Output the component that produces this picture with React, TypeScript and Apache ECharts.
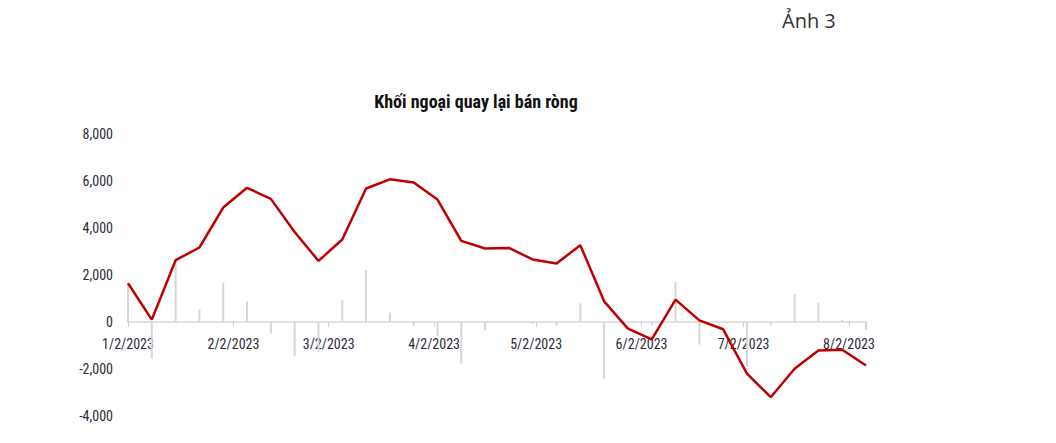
import React, { useEffect, useRef } from "react";
import * as echarts from "echarts";

const weekDates: string[] = [
  "2023-01-02", "2023-01-09", "2023-01-16", "2023-01-23", "2023-01-30",
  "2023-02-06", "2023-02-13", "2023-02-20", "2023-02-27",
  "2023-03-06", "2023-03-13", "2023-03-20", "2023-03-27",
  "2023-04-03", "2023-04-10", "2023-04-17", "2023-04-24",
  "2023-05-01", "2023-05-08", "2023-05-15", "2023-05-22", "2023-05-29",
  "2023-06-05", "2023-06-12", "2023-06-19", "2023-06-26",
  "2023-07-03", "2023-07-10", "2023-07-17", "2023-07-24", "2023-07-31",
  "2023-08-07",
];

// cumulative line (bn VND)
const lineValues: number[] = [
  1650, 100, 2630, 3170, 4870, 5710, 5240, 3830, 2600, 3510, 5680, 6070,
  5940, 5210, 3450, 3130, 3150, 2660, 2490, 3270, 880, -280, -740, 950,
  70, -310, -2200, -3200, -1990, -1210, -1180, -1850,
];

// weekly net values (gray bars)
const barValues: number[] = [
  1650, -1560, 2620, 525, 1690, 865, -495, -1450, -1270, 925, 2200, 400,
  -170, -600, -1770, -355, -40, -80, -150, 795, -2410, -30, -150, 1715,
  -960, -40, -1900, -150, 1180, 820, 100, -330,
];

const monthTickDates: string[] = [
  "2023-01-02", "2023-02-02", "2023-03-02", "2023-04-02",
  "2023-05-02", "2023-06-02", "2023-07-02", "2023-08-02",
];

const yTicks: number[] = [-4000, -2000, 0, 2000, 4000, 6000, 8000];

const titleText = "Khối ngoại quay lại bán ròng";
const captionText = "Ảnh 3";

const toTs = (s: string): number => new Date(s + "T00:00:00Z").getTime();

const narrow = "'Liberation Sans Narrow', 'Arial Narrow', 'Roboto Condensed', Arial, sans-serif";

const GRID_TOP = 134;
const GRID_BOTTOM = 27;
const CHART_H = 443;

export default function App() {
  const ref = useRef<HTMLDivElement>(null);

  useEffect(() => {
    if (!ref.current) return;
    const chart = echarts.init(ref.current, null, { renderer: "svg" });
    const lineData = weekDates.map((d, i) => [toTs(d), lineValues[i]]);
    const barData = weekDates.map((d, i) => [toTs(d), barValues[i]]);
    const monthTs = monthTickDates.map(toTs);

    const yMin = yTicks[0];
    const yMax = yTicks[yTicks.length - 1];
    const plotH = CHART_H - GRID_TOP - GRID_BOTTOM;
    // distance from grid bottom up to the zero line
    const zeroOffset = (plotH * (0 - yMin)) / (yMax - yMin);

    chart.setOption({
      animation: false,
      backgroundColor: "#ffffff",
      title: [
        {
          text: titleText,
          left: 471,
          textAlign: "center",
          top: 87,
          textStyle: {
            fontFamily: narrow,
            fontSize: 18,
            fontWeight: "bold",
            color: "#111111",
          },
        },
        {
          text: captionText,
          left: 777,
          top: 5,
          textStyle: {
            fontFamily: "'Open Sans', 'Noto Sans', sans-serif",
            fontSize: 20,
            fontWeight: "normal",
            color: "#333333",
          },
        },
      ],
      grid: {
        left: 128,
        right: 190,
        top: GRID_TOP,
        bottom: GRID_BOTTOM,
        containLabel: false,
      },
      xAxis: {
        type: "value",
        position: "bottom",
        offset: -zeroOffset,
        min: toTs(weekDates[0]),
        max: toTs(weekDates[weekDates.length - 1]),
        axisLine: {
          onZero: false,
          lineStyle: { color: "#d9d9d9", width: 1.5 },
        },
        axisTick: {
          show: true,
          customValues: monthTs,
          length: 5,
          inside: false,
          lineStyle: { color: "#cfcfcf", width: 1 },
        },
        axisLabel: {
          customValues: monthTs,
          margin: 15,
          fontFamily: narrow,
          fontSize: 14,
          color: "#2b2b3b",
          formatter: (v: number) => {
            const d = new Date(v);
            return `${d.getUTCMonth() + 1}/${d.getUTCDate()}/${d.getUTCFullYear()}`;
          },
        },
        splitLine: { show: false },
      },
      yAxis: {
        type: "value",
        min: yMin,
        max: yMax,
        interval: 2000,
        axisLine: { show: false },
        axisTick: { show: false },
        splitLine: { show: false },
        axisLabel: {
          margin: 15,
          fontFamily: narrow,
          fontSize: 14,
          color: "#2b2b3b",
          formatter: (v: number) => v.toLocaleString("en-US"),
        },
      },
      series: [
        {
          type: "bar",
          data: barData,
          barWidth: 2,
          itemStyle: { color: "#d6d6d6" },
          z: 1,
        },
        {
          type: "line",
          data: lineData,
          showSymbol: false,
          symbol: "none",
          lineStyle: { color: "#c00000", width: 2.5 },
          z: 3,
        },
      ],
    });
    return () => chart.dispose();
  }, []);

  return (
    <div
      ref={ref}
      style={{ position: "fixed", left: 0, top: 0, width: 1056, height: 443 }}
    />
  );
}
